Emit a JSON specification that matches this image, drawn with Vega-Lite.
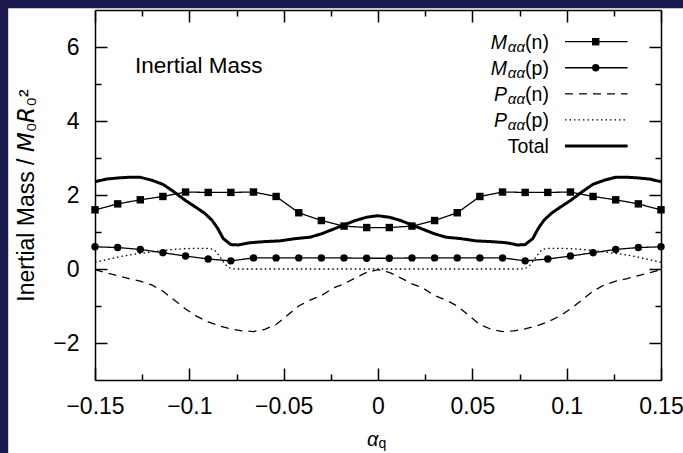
{
  "$schema": "https://vega.github.io/schema/vega-lite/v6.json",
  "width": 566,
  "height": 370,
  "autosize": "none",
  "padding": {"left": 95, "top": 10, "right": 22, "bottom": 73},
  "background": "#1c1b50",
  "config": {
    "view": {"stroke": null},
    "font": "Liberation Sans",
    "axis": {
      "grid": false,
      "domainColor": "black",
      "domainWidth": 1.5,
      "tickColor": "black",
      "tickWidth": 1.5,
      "labelColor": "black",
      "labelFont": "Liberation Sans",
      "labelFontSize": 23,
      "titleFont": "Liberation Sans",
      "titleFontSize": 23,
      "titleFontWeight": "normal",
      "titleColor": "black",
      "labelFlush": false,
      "labelOverlap": false,
      "labelBound": false
    }
  },
  "datasets": {
    "curves": [
      {"series": "Mn", "alpha": -0.15, "mass": 1.60}, {"series": "Mn", "alpha": -0.138, "mass": 1.76}, {"series": "Mn", "alpha": -0.126, "mass": 1.87}, {"series": "Mn", "alpha": -0.114, "mass": 1.96}, {"series": "Mn", "alpha": -0.102, "mass": 2.08}, {"series": "Mn", "alpha": -0.09, "mass": 2.07}, {"series": "Mn", "alpha": -0.078, "mass": 2.07}, {"series": "Mn", "alpha": -0.066, "mass": 2.08}, {"series": "Mn", "alpha": -0.054, "mass": 1.96}, {"series": "Mn", "alpha": -0.042, "mass": 1.52}, {"series": "Mn", "alpha": -0.03, "mass": 1.31}, {"series": "Mn", "alpha": -0.018, "mass": 1.16}, {"series": "Mn", "alpha": -0.006, "mass": 1.12},
      {"series": "Mn", "alpha": 0.006, "mass": 1.12}, {"series": "Mn", "alpha": 0.018, "mass": 1.16}, {"series": "Mn", "alpha": 0.03, "mass": 1.31}, {"series": "Mn", "alpha": 0.042, "mass": 1.52}, {"series": "Mn", "alpha": 0.054, "mass": 1.96}, {"series": "Mn", "alpha": 0.066, "mass": 2.08}, {"series": "Mn", "alpha": 0.078, "mass": 2.07}, {"series": "Mn", "alpha": 0.09, "mass": 2.07}, {"series": "Mn", "alpha": 0.102, "mass": 2.08}, {"series": "Mn", "alpha": 0.114, "mass": 1.96}, {"series": "Mn", "alpha": 0.126, "mass": 1.87}, {"series": "Mn", "alpha": 0.138, "mass": 1.76}, {"series": "Mn", "alpha": 0.15, "mass": 1.60},
      {"series": "Mp", "alpha": -0.15, "mass": 0.60}, {"series": "Mp", "alpha": -0.138, "mass": 0.58}, {"series": "Mp", "alpha": -0.126, "mass": 0.53}, {"series": "Mp", "alpha": -0.114, "mass": 0.44}, {"series": "Mp", "alpha": -0.102, "mass": 0.35}, {"series": "Mp", "alpha": -0.09, "mass": 0.27}, {"series": "Mp", "alpha": -0.078, "mass": 0.22}, {"series": "Mp", "alpha": -0.066, "mass": 0.30}, {"series": "Mp", "alpha": -0.054, "mass": 0.30}, {"series": "Mp", "alpha": -0.042, "mass": 0.30}, {"series": "Mp", "alpha": -0.03, "mass": 0.30}, {"series": "Mp", "alpha": -0.018, "mass": 0.30}, {"series": "Mp", "alpha": -0.006, "mass": 0.29},
      {"series": "Mp", "alpha": 0.006, "mass": 0.29}, {"series": "Mp", "alpha": 0.018, "mass": 0.30}, {"series": "Mp", "alpha": 0.03, "mass": 0.30}, {"series": "Mp", "alpha": 0.042, "mass": 0.30}, {"series": "Mp", "alpha": 0.054, "mass": 0.30}, {"series": "Mp", "alpha": 0.066, "mass": 0.30}, {"series": "Mp", "alpha": 0.078, "mass": 0.22}, {"series": "Mp", "alpha": 0.09, "mass": 0.27}, {"series": "Mp", "alpha": 0.102, "mass": 0.35}, {"series": "Mp", "alpha": 0.114, "mass": 0.44}, {"series": "Mp", "alpha": 0.126, "mass": 0.53}, {"series": "Mp", "alpha": 0.138, "mass": 0.58}, {"series": "Mp", "alpha": 0.15, "mass": 0.60},
      {"series": "Total", "alpha": -0.15, "mass": 2.36}, {"series": "Total", "alpha": -0.144, "mass": 2.43}, {"series": "Total", "alpha": -0.138, "mass": 2.46}, {"series": "Total", "alpha": -0.132, "mass": 2.48}, {"series": "Total", "alpha": -0.126, "mass": 2.48}, {"series": "Total", "alpha": -0.12, "mass": 2.40}, {"series": "Total", "alpha": -0.114, "mass": 2.29}, {"series": "Total", "alpha": -0.108, "mass": 2.08}, {"series": "Total", "alpha": -0.102, "mass": 1.85}, {"series": "Total", "alpha": -0.096, "mass": 1.65}, {"series": "Total", "alpha": -0.092, "mass": 1.51}, {"series": "Total", "alpha": -0.088, "mass": 1.32}, {"series": "Total", "alpha": -0.085, "mass": 1.10}, {"series": "Total", "alpha": -0.082, "mass": 0.82}, {"series": "Total", "alpha": -0.078, "mass": 0.66}, {"series": "Total", "alpha": -0.074, "mass": 0.65}, {"series": "Total", "alpha": -0.068, "mass": 0.71}, {"series": "Total", "alpha": -0.06, "mass": 0.74}, {"series": "Total", "alpha": -0.052, "mass": 0.76}, {"series": "Total", "alpha": -0.044, "mass": 0.82}, {"series": "Total", "alpha": -0.036, "mass": 0.86}, {"series": "Total", "alpha": -0.03, "mass": 0.95}, {"series": "Total", "alpha": -0.024, "mass": 1.07}, {"series": "Total", "alpha": -0.018, "mass": 1.19}, {"series": "Total", "alpha": -0.012, "mass": 1.31}, {"series": "Total", "alpha": -0.006, "mass": 1.40}, {"series": "Total", "alpha": 0, "mass": 1.44},
      {"series": "Total", "alpha": 0.006, "mass": 1.40}, {"series": "Total", "alpha": 0.012, "mass": 1.31}, {"series": "Total", "alpha": 0.018, "mass": 1.19}, {"series": "Total", "alpha": 0.024, "mass": 1.07}, {"series": "Total", "alpha": 0.03, "mass": 0.95}, {"series": "Total", "alpha": 0.036, "mass": 0.86}, {"series": "Total", "alpha": 0.044, "mass": 0.82}, {"series": "Total", "alpha": 0.052, "mass": 0.76}, {"series": "Total", "alpha": 0.06, "mass": 0.74}, {"series": "Total", "alpha": 0.068, "mass": 0.71}, {"series": "Total", "alpha": 0.074, "mass": 0.65}, {"series": "Total", "alpha": 0.078, "mass": 0.66}, {"series": "Total", "alpha": 0.082, "mass": 0.82}, {"series": "Total", "alpha": 0.085, "mass": 1.10}, {"series": "Total", "alpha": 0.088, "mass": 1.32}, {"series": "Total", "alpha": 0.092, "mass": 1.51}, {"series": "Total", "alpha": 0.096, "mass": 1.65}, {"series": "Total", "alpha": 0.102, "mass": 1.85}, {"series": "Total", "alpha": 0.108, "mass": 2.08}, {"series": "Total", "alpha": 0.114, "mass": 2.29}, {"series": "Total", "alpha": 0.12, "mass": 2.40}, {"series": "Total", "alpha": 0.126, "mass": 2.48}, {"series": "Total", "alpha": 0.132, "mass": 2.48}, {"series": "Total", "alpha": 0.138, "mass": 2.46}, {"series": "Total", "alpha": 0.144, "mass": 2.43}, {"series": "Total", "alpha": 0.15, "mass": 2.36},
      {"series": "Pn", "alpha": -0.15, "mass": -0.02}, {"series": "Pn", "alpha": -0.144, "mass": -0.10}, {"series": "Pn", "alpha": -0.138, "mass": -0.18}, {"series": "Pn", "alpha": -0.132, "mass": -0.26}, {"series": "Pn", "alpha": -0.126, "mass": -0.33}, {"series": "Pn", "alpha": -0.12, "mass": -0.43}, {"series": "Pn", "alpha": -0.114, "mass": -0.60}, {"series": "Pn", "alpha": -0.108, "mass": -0.84}, {"series": "Pn", "alpha": -0.102, "mass": -1.08}, {"series": "Pn", "alpha": -0.096, "mass": -1.28}, {"series": "Pn", "alpha": -0.09, "mass": -1.43}, {"series": "Pn", "alpha": -0.084, "mass": -1.54}, {"series": "Pn", "alpha": -0.078, "mass": -1.62}, {"series": "Pn", "alpha": -0.072, "mass": -1.67}, {"series": "Pn", "alpha": -0.066, "mass": -1.69}, {"series": "Pn", "alpha": -0.06, "mass": -1.63}, {"series": "Pn", "alpha": -0.054, "mass": -1.50}, {"series": "Pn", "alpha": -0.048, "mass": -1.25}, {"series": "Pn", "alpha": -0.042, "mass": -1.00}, {"series": "Pn", "alpha": -0.036, "mass": -0.84}, {"series": "Pn", "alpha": -0.03, "mass": -0.72}, {"series": "Pn", "alpha": -0.024, "mass": -0.52}, {"series": "Pn", "alpha": -0.018, "mass": -0.40}, {"series": "Pn", "alpha": -0.012, "mass": -0.24}, {"series": "Pn", "alpha": -0.006, "mass": -0.09}, {"series": "Pn", "alpha": 0, "mass": -0.02},
      {"series": "Pn", "alpha": 0.006, "mass": -0.09}, {"series": "Pn", "alpha": 0.012, "mass": -0.24}, {"series": "Pn", "alpha": 0.018, "mass": -0.40}, {"series": "Pn", "alpha": 0.024, "mass": -0.52}, {"series": "Pn", "alpha": 0.03, "mass": -0.72}, {"series": "Pn", "alpha": 0.036, "mass": -0.84}, {"series": "Pn", "alpha": 0.042, "mass": -1.00}, {"series": "Pn", "alpha": 0.048, "mass": -1.25}, {"series": "Pn", "alpha": 0.054, "mass": -1.50}, {"series": "Pn", "alpha": 0.06, "mass": -1.63}, {"series": "Pn", "alpha": 0.066, "mass": -1.69}, {"series": "Pn", "alpha": 0.072, "mass": -1.67}, {"series": "Pn", "alpha": 0.078, "mass": -1.62}, {"series": "Pn", "alpha": 0.084, "mass": -1.54}, {"series": "Pn", "alpha": 0.09, "mass": -1.43}, {"series": "Pn", "alpha": 0.096, "mass": -1.28}, {"series": "Pn", "alpha": 0.102, "mass": -1.08}, {"series": "Pn", "alpha": 0.108, "mass": -0.84}, {"series": "Pn", "alpha": 0.114, "mass": -0.60}, {"series": "Pn", "alpha": 0.12, "mass": -0.43}, {"series": "Pn", "alpha": 0.126, "mass": -0.33}, {"series": "Pn", "alpha": 0.132, "mass": -0.26}, {"series": "Pn", "alpha": 0.138, "mass": -0.18}, {"series": "Pn", "alpha": 0.144, "mass": -0.10}, {"series": "Pn", "alpha": 0.15, "mass": -0.02},
      {"series": "Pp", "alpha": -0.15, "mass": 0.18}, {"series": "Pp", "alpha": -0.144, "mass": 0.25}, {"series": "Pp", "alpha": -0.138, "mass": 0.32}, {"series": "Pp", "alpha": -0.132, "mass": 0.38}, {"series": "Pp", "alpha": -0.126, "mass": 0.42}, {"series": "Pp", "alpha": -0.12, "mass": 0.46}, {"series": "Pp", "alpha": -0.114, "mass": 0.50}, {"series": "Pp", "alpha": -0.108, "mass": 0.53}, {"series": "Pp", "alpha": -0.102, "mass": 0.55}, {"series": "Pp", "alpha": -0.096, "mass": 0.56}, {"series": "Pp", "alpha": -0.09, "mass": 0.56}, {"series": "Pp", "alpha": -0.087, "mass": 0.53}, {"series": "Pp", "alpha": -0.084, "mass": 0.35}, {"series": "Pp", "alpha": -0.081, "mass": 0.12}, {"series": "Pp", "alpha": -0.078, "mass": 0.01}, {"series": "Pp", "alpha": -0.075, "mass": 0}, {"series": "Pp", "alpha": 0, "mass": 0},
      {"series": "Pp", "alpha": 0.075, "mass": 0}, {"series": "Pp", "alpha": 0.078, "mass": 0.01}, {"series": "Pp", "alpha": 0.081, "mass": 0.12}, {"series": "Pp", "alpha": 0.084, "mass": 0.35}, {"series": "Pp", "alpha": 0.087, "mass": 0.53}, {"series": "Pp", "alpha": 0.09, "mass": 0.56}, {"series": "Pp", "alpha": 0.096, "mass": 0.56}, {"series": "Pp", "alpha": 0.102, "mass": 0.55}, {"series": "Pp", "alpha": 0.108, "mass": 0.53}, {"series": "Pp", "alpha": 0.114, "mass": 0.50}, {"series": "Pp", "alpha": 0.12, "mass": 0.46}, {"series": "Pp", "alpha": 0.126, "mass": 0.42}, {"series": "Pp", "alpha": 0.132, "mass": 0.38}, {"series": "Pp", "alpha": 0.138, "mass": 0.32}, {"series": "Pp", "alpha": 0.144, "mass": 0.25}, {"series": "Pp", "alpha": 0.15, "mass": 0.18}
    ],
    "legend": [
      {"series": "Mn", "rank": 0, "main": "M", "sub": "αα", "arg": "(n)"},
      {"series": "Mp", "rank": 1, "main": "M", "sub": "αα", "arg": "(p)"},
      {"series": "Pn", "rank": 2, "main": "P", "sub": "αα", "arg": "(n)"},
      {"series": "Pp", "rank": 3, "main": "P", "sub": "αα", "arg": "(p)"},
      {"series": "Total", "rank": 4, "main": "", "sub": "", "arg": "Total"}
    ]
  },
  "layer": [
    {
      "layer": [
        {
          "data": {"values": [{}]},
          "mark": {"type": "rect", "fill": "white", "stroke": null},
          "encoding": {
            "x": {"datum": -0.196, "type": "quantitative", "scale": {"domain": [-0.15, 0.15], "nice": false, "zero": false},
              "axis": {"orient": "bottom", "zindex": 1, "values": [-0.15, -0.1, -0.05, 0, 0.05, 0.1, 0.15], "format": ".2~f", "ticks": false, "domain": true, "labelPadding": 33, "labelBaseline": "alphabetic", "title": "α", "titleFontStyle": "italic", "titleFontSize": 20, "titlePadding": 27, "titleBaseline": "alphabetic", "titleAlign": "right"}},
            "x2": {"datum": 0.2},
            "y": {"datum": 7.046, "type": "quantitative", "scale": {"domain": [-3, 7], "nice": false, "zero": false},
              "axis": {"orient": "left", "zindex": 1, "values": [-2, 0, 2, 4, 6], "format": "~g", "ticks": false, "domain": true, "labelPadding": 16, "title": "Inertial Mass / 𝘔₀𝘙₀²", "titlePadding": 19, "titleBaseline": "alphabetic"}},
            "y2": {"datum": -6}
          }
        },
        {
          "data": {"name": "curves"},
          "mark": {"type": "line", "color": "black"},
          "encoding": {
            "x": {"field": "alpha", "type": "quantitative", "scale": {"domain": [-0.15, 0.15], "nice": false, "zero": false},
              "axis": {"orient": "top", "zindex": 1, "values": [-0.15, -0.1, -0.05, 0, 0.05, 0.1, 0.15], "labels": false, "tickSize": -12, "domain": true, "title": null}},
            "y": {"field": "mass", "type": "quantitative", "scale": {"domain": [-3, 7], "nice": false, "zero": false},
              "axis": {"orient": "right", "zindex": 1, "values": [-2, 0, 2, 4, 6], "labels": false, "tickSize": -12, "domain": true, "title": null}},
            "detail": {"field": "series"},
            "strokeDash": {"field": "series", "type": "nominal", "scale": {"domain": ["Mn", "Mp", "Pn", "Pp", "Total"], "range": [[1, 0], [1, 0], [8, 6], [1.5, 3], [1, 0]]}, "legend": null},
            "strokeWidth": {"field": "series", "type": "nominal", "scale": {"type": "ordinal", "domain": ["Mn", "Mp", "Pn", "Pp", "Total"], "range": [1.3, 1.3, 1.3, 1.3, 3]}, "legend": null}
          }
        },
        {
          "data": {"name": "curves"},
          "transform": [{"filter": {"field": "series", "oneOf": ["Mn", "Mp"]}}],
          "mark": {"type": "point", "filled": true, "color": "black", "size": 55, "opacity": 1},
          "encoding": {
            "x": {"field": "alpha", "type": "quantitative", "scale": {"domain": [-0.15, 0.15], "nice": false, "zero": false},
              "axis": {"orient": "bottom", "zindex": 1, "values": [-0.125, -0.075, -0.025, 0.025, 0.075, 0.125], "labels": false, "tickSize": -6, "domain": false, "title": null}},
            "y": {"field": "mass", "type": "quantitative", "scale": {"domain": [-3, 7], "nice": false, "zero": false},
              "axis": {"orient": "left", "zindex": 1, "values": [-1, 1, 3, 5], "labels": false, "tickSize": -6, "domain": false, "title": null}},
            "shape": {"field": "series", "type": "nominal", "scale": {"domain": ["Mn", "Mp"], "range": ["square", "circle"]}, "legend": null}
          }
        },
        {
          "data": {"values": [{"label": "Inertial Mass"}]},
          "mark": {"type": "text", "align": "left", "baseline": "alphabetic", "fontSize": 22.5, "font": "Liberation Sans", "color": "black"},
          "encoding": {
            "x": {"datum": -0.1288, "type": "quantitative", "scale": {"domain": [-0.15, 0.15], "nice": false, "zero": false},
              "axis": {"orient": "bottom", "zindex": 1, "values": [-0.15, -0.1, -0.05, 0, 0.05, 0.1, 0.15], "labels": false, "tickSize": -12, "domain": false, "title": null}},
            "y": {"datum": 5.29, "type": "quantitative", "scale": {"domain": [-3, 7], "nice": false, "zero": false},
              "axis": {"orient": "left", "zindex": 1, "values": [-2, 0, 2, 4, 6], "labels": false, "tickSize": -12, "domain": false, "title": null}},
            "text": {"field": "label"}
          }
        },
        {
          "data": {"values": [{"label": "q"}]},
          "mark": {"type": "text", "align": "left", "baseline": "alphabetic", "fontSize": 14, "font": "Liberation Sans", "color": "black"},
          "encoding": {
            "x": {"datum": 0.0002, "type": "quantitative", "scale": {"domain": [-0.15, 0.15], "nice": false, "zero": false},
              "axis": {"orient": "top", "zindex": 1, "values": [-0.125, -0.075, -0.025, 0.025, 0.075, 0.125], "labels": false, "tickSize": -6, "domain": false, "title": null}},
            "y": {"datum": -4.84, "type": "quantitative", "scale": {"domain": [-3, 7], "nice": false, "zero": false},
              "axis": {"orient": "right", "zindex": 1, "values": [-1, 1, 3, 5], "labels": false, "tickSize": -6, "domain": false, "title": null}},
            "text": {"field": "label"}
          }
        }
      ],
      "resolve": {"axis": {"x": "independent", "y": "independent"}}
    },
    {
      "data": {"name": "legend"},
      "layer": [
        {
          "mark": {"type": "rule", "color": "black"},
          "encoding": {
            "x": {"datum": 0.0991, "type": "quantitative", "scale": {"domain": [-0.15, 0.15], "nice": false, "zero": false}, "axis": null},
            "x2": {"datum": 0.1323},
            "y": {"field": "rank", "type": "quantitative", "scale": {"domain": [-1.216, 12.977], "reverse": true, "nice": false, "zero": false}, "axis": null},
            "strokeDash": {"field": "series", "type": "nominal", "scale": {"domain": ["Mn", "Mp", "Pn", "Pp", "Total"], "range": [[1, 0], [1, 0], [8, 6], [1.5, 3], [1, 0]]}, "legend": null},
            "strokeWidth": {"field": "series", "type": "nominal", "scale": {"type": "ordinal", "domain": ["Mn", "Mp", "Pn", "Pp", "Total"], "range": [1.3, 1.3, 1.3, 1.3, 3]}, "legend": null}
          }
        },
        {
          "transform": [{"filter": {"field": "series", "oneOf": ["Mn", "Mp"]}}],
          "mark": {"type": "point", "filled": true, "color": "black", "size": 55, "opacity": 1},
          "encoding": {
            "x": {"datum": 0.1154, "type": "quantitative", "scale": {"domain": [-0.15, 0.15], "nice": false, "zero": false}, "axis": null},
            "y": {"field": "rank", "type": "quantitative", "scale": {"domain": [-1.216, 12.977], "reverse": true, "nice": false, "zero": false}, "axis": null},
            "shape": {"field": "series", "type": "nominal", "scale": {"domain": ["Mn", "Mp"], "range": ["square", "circle"]}, "legend": null}
          }
        },
        {
          "mark": {"type": "text", "align": "right", "baseline": "alphabetic", "dx": -42, "dy": 7.5, "fontSize": 19.5, "fontStyle": "italic", "font": "Liberation Sans", "color": "black"},
          "encoding": {
            "x": {"datum": 0.0906, "type": "quantitative", "scale": {"domain": [-0.15, 0.15], "nice": false, "zero": false}, "axis": null},
            "y": {"field": "rank", "type": "quantitative", "scale": {"domain": [-1.216, 12.977], "reverse": true, "nice": false, "zero": false}, "axis": null},
            "text": {"field": "main"}
          }
        },
        {
          "mark": {"type": "text", "align": "right", "baseline": "alphabetic", "dx": -24, "dy": 10.5, "fontSize": 15, "fontStyle": "italic", "font": "Liberation Sans", "color": "black"},
          "encoding": {
            "x": {"datum": 0.0906, "type": "quantitative", "scale": {"domain": [-0.15, 0.15], "nice": false, "zero": false}, "axis": null},
            "y": {"field": "rank", "type": "quantitative", "scale": {"domain": [-1.216, 12.977], "reverse": true, "nice": false, "zero": false}, "axis": null},
            "text": {"field": "sub"}
          }
        },
        {
          "mark": {"type": "text", "align": "right", "baseline": "alphabetic", "dx": 0, "dy": 7.5, "fontSize": 19.5, "font": "Liberation Sans", "color": "black"},
          "encoding": {
            "x": {"datum": 0.0906, "type": "quantitative", "scale": {"domain": [-0.15, 0.15], "nice": false, "zero": false}, "axis": null},
            "y": {"field": "rank", "type": "quantitative", "scale": {"domain": [-1.216, 12.977], "reverse": true, "nice": false, "zero": false}, "axis": null},
            "text": {"field": "arg"}
          }
        }
      ]
    }
  ],
  "resolve": {"scale": {"y": "independent"}, "axis": {"x": "independent", "y": "independent"}}
}
